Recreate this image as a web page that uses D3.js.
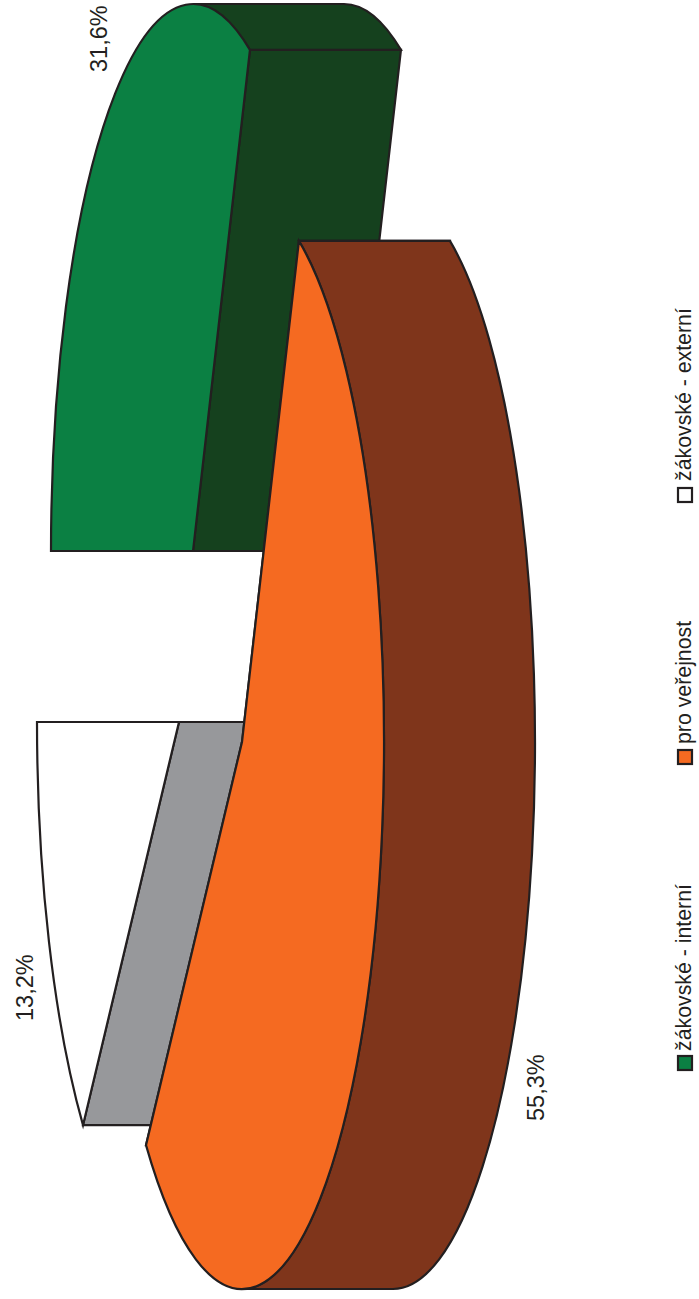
<!DOCTYPE html>
<html>
  <head>
    <meta charset="utf-8" />
    <script src="https://d3js.org/d3.v7.min.js"></script>
    <style>
      html, body { margin: 0; padding: 0; background: #ffffff; }
      svg { display: block; }
      .face, .wall { stroke: #231f20; stroke-width: 2.2; stroke-linejoin: miter; vector-effect: non-scaling-stroke; }
      text { font-family: "Liberation Sans", Arial, sans-serif; fill: #231f20; }
    </style>
  </head>
  <body>
    <div id="chart"></div>
    <script type="text/javascript">
      var categories = ["žákovské - interní", "pro veřejnost", "žákovské - externí"];
      var values = [31.6, 55.3, 13.2];
      var valueLabels = ["31,6%", "55,3%", "13,2%"];

      var topColors = ["#0b8043", "#f56a21", "#ffffff"];
      var sideColors = ["#15411e", "#7f351b", "#97989b"];

      var w = 699, h = 1299;
      var rx = 142, ry = 547, depth = 151;
      // where each exploded slice has its tip
      var tips = [[193, 551], [242, 742], [179, 722]];
      var labelPos = [[107, 72], [544, 1121], [33, 1021]];
      var swatchPos = [1070, 764, 502];
      var legendTextPos = [1051, 744, 481];

      var svg = d3.select("#chart").append("svg")
        .attr("width", w)
        .attr("height", h);

      var startAngle = -Math.PI / 2;
      var pie = d3.pie().sort(null)
        .startAngle(startAngle)
        .endAngle(startAngle + 2 * Math.PI);
      var slices = pie(values);

      var arc = d3.arc().innerRadius(0).outerRadius(1);
      var unitDepth = depth / rx;

      // band along the outer edge, only the part that faces us
      function rimPath(d) {
        var from = Math.max(d.startAngle - Math.PI / 2, -Math.PI / 2);
        var to = Math.min(d.endAngle - Math.PI / 2, Math.PI / 2);
        if (from >= to) return null;
        var p = d3.path();
        p.arc(0, 0, 1, from, to);
        p.lineTo(unitDepth + Math.cos(to), Math.sin(to));
        p.arc(unitDepth, 0, 1, to, from, true);
        p.closePath();
        return p.toString();
      }

      function wallPath(angle) {
        var x = Math.sin(angle), y = -Math.cos(angle);
        var p = d3.path();
        p.moveTo(0, 0);
        p.lineTo(x, y);
        p.lineTo(x + unitDepth, y);
        p.lineTo(unitDepth, 0);
        p.closePath();
        return p.toString();
      }

      // back to front: green, white, then orange on top
      var order = [0, 2, 1];

      var groups = svg.selectAll("g.slice").data(order)
        .enter()
        .append("g")
        .attr("class", "slice")
        .attr("transform", function(i) {
          return "translate(" + tips[i][0] + "," + tips[i][1] + ") scale(" + rx + "," + ry + ")";
        });

      groups.each(function(i) {
        var g = d3.select(this), d = slices[i];
        [d.startAngle, d.endAngle].forEach(function(angle) {
          g.append("path")
            .attr("class", "wall")
            .attr("d", wallPath(angle))
            .attr("fill", sideColors[i]);
        });
        var rim = rimPath(d);
        if (rim) {
          g.append("path")
            .attr("class", "wall")
            .attr("d", rim)
            .attr("fill", sideColors[i]);
        }
        g.append("path")
          .attr("class", "face")
          .attr("d", arc(d))
          .attr("fill", topColors[i]);
      });

      svg.selectAll("text.value").data(valueLabels)
        .enter()
        .append("text")
        .attr("class", "value")
        .attr("font-size", 23.5)
        .attr("transform", function(d, i) {
          return "translate(" + labelPos[i][0] + "," + labelPos[i][1] + ") rotate(-90)";
        })
        .text(function(d) { return d; });

      var legend = svg.selectAll("g.legend").data(categories)
        .enter()
        .append("g")
        .attr("class", "legend");

      legend.append("rect")
        .attr("transform", function(d, i) {
          return "translate(691," + swatchPos[i] + ") rotate(-90)";
        })
        .attr("x", 0)
        .attr("y", -13)
        .attr("width", 14)
        .attr("height", 14)
        .attr("fill", function(d, i) { return topColors[i]; })
        .attr("stroke", "#231f20")
        .attr("stroke-width", 2.2);

      legend.append("text")
        .attr("transform", function(d, i) {
          return "translate(691," + legendTextPos[i] + ") rotate(-90)";
        })
        .attr("font-size", 21.3)
        .text(function(d) { return d; });
    </script>
  </body>
</html>
